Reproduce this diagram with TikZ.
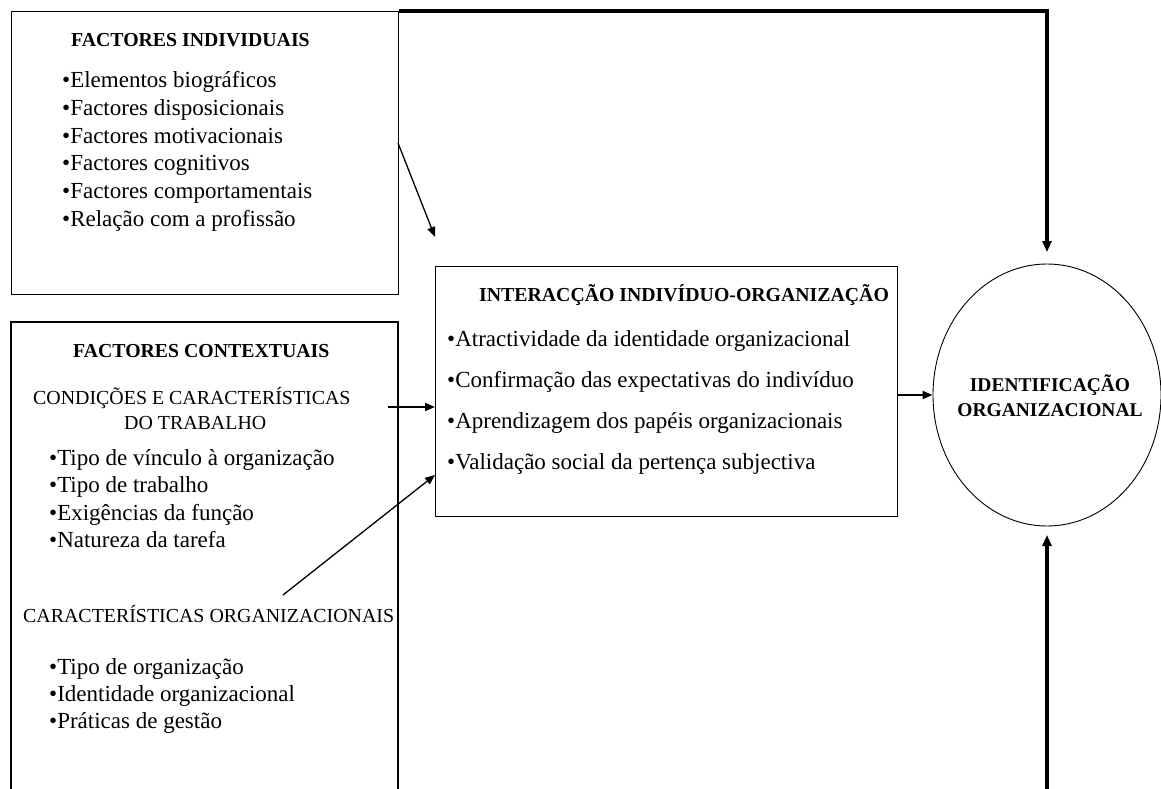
\documentclass[tikz,border=0pt]{standalone}
\usepackage{fontspec}
\setmainfont{Liberation Serif}
\usetikzlibrary{arrows.meta,shapes.geometric}
\begin{document}
\begin{tikzpicture}[x=1pt,y=-1pt,
  frame/.style={draw, line width=1.1pt},
  item/.style={anchor=base west, inner sep=0pt, font=\fontsize{23}{27}\selectfont},
  head/.style={anchor=base west, inner sep=0pt, font=\bfseries\fontsize{19.8}{23}\selectfont},
  caps/.style={anchor=base west, inner sep=0pt, font=\fontsize{19.9}{23}\selectfont},
  ctext/.style={anchor=base, inner sep=0pt, font=\bfseries\fontsize{19.5}{23}\selectfont},
  link/.style={-{Triangle[length=10pt,width=8pt]}, line width=1.3pt},
  midlink/.style={link, line width=2pt},
  heavy/.style={-{Triangle[length=11pt,width=9pt]}, line width=3.2pt}]
\useasboundingbox (0,0) rectangle (1161,789);

% boxes
\node[frame, minimum width=387pt, minimum height=283pt, anchor=north west, inner sep=0pt] (indiv) at (11,11) {};
\coordinate (ctxbl) at (11,789);
\coordinate (ctxtl) at (11,322);
\coordinate (ctxtr) at (398,322);
\coordinate (ctxbr) at (398,789);
\draw[line width=1.1pt] (ctxbl) -- (ctxtl) -- (ctxtr) -- (ctxbr);
\node[frame, minimum width=462pt, minimum height=250pt, anchor=north west, inner sep=0pt] (inter) at (435,266) {};
\node[draw, ellipse, line width=0.9pt, minimum width=228pt, minimum height=262pt, inner sep=0pt] (ident) at (1047,395) {};

% individual factors
\node[head] (indivtitle) at (71,47) {FACTORES INDIVIDUAIS};
\foreach \t [count=\i from 0] in {Elementos biográficos, Factores disposicionais, Factores motivacionais, Factores cognitivos, Factores comportamentais, Relação com a profissão}
  \node[item] (ind\i) at (62,88+27.6*\i) {•\t};

% contextual factors
\node[head] (ctxtitle) at (73,357) {FACTORES CONTEXTUAIS};
\node[caps] (cond1) at (33,404) {CONDIÇÕES E CARACTERÍSTICAS};
\node[caps] (cond2) at (124,429) {DO TRABALHO};
\foreach \t [count=\i from 0] in {Tipo de vínculo à organização, Tipo de trabalho, Exigências da função, Natureza da tarefa}
  \node[item] (trab\i) at (49,465+27.6*\i) {•\t};
\node[caps] (orgtitle) at (23,622) {CARACTERÍSTICAS ORGANIZACIONAIS};
\foreach \t [count=\i from 0] in {Tipo de organização, Identidade organizacional, Práticas de gestão}
  \node[item] (org\i) at (49,674+27*\i) {•\t};

% interaction
\node[head] (intertitle) at (479,301) {INTERACÇÃO INDIVÍDUO-ORGANIZAÇÃO};
\foreach \t [count=\i from 0] in {Atractividade da identidade organizacional, Confirmação das expectativas do indivíduo, Aprendizagem dos papéis organizacionais, Validação social da pertença subjectiva}
  \node[item] (int\i) at (447,346+41*\i) {•\t};

% identification
\node[ctext] (id1) at (1050,391) {IDENTIFICAÇÃO};
\node[ctext] (id2) at (1050,416) {ORGANIZACIONAL};

% connectors
\coordinate (a1s) at (398,143);
\coordinate (a1e) at (435,237);
\draw[link] (a1s) -- (a1e);
\coordinate (a2s) at (388,407);
\draw[midlink] (a2s) -- (inter.west |- a2s);
\coordinate (a3s) at (283,595);
\coordinate (a3e) at (435,475);
\draw[link] (a3s) -- (a3e);
\draw[midlink] (inter.east |- ident.west) -- (ident.west);
\coordinate (topc) at (1047,11);
\coordinate (topend) at (1047,252);
\draw[heavy] (indiv.north east) -- (topc) -- (topend);
\coordinate (botstart) at (1047,789);
\coordinate (botend) at (1047,535);
\draw[heavy] (botstart) -- (botend);
\end{tikzpicture}
\end{document}
